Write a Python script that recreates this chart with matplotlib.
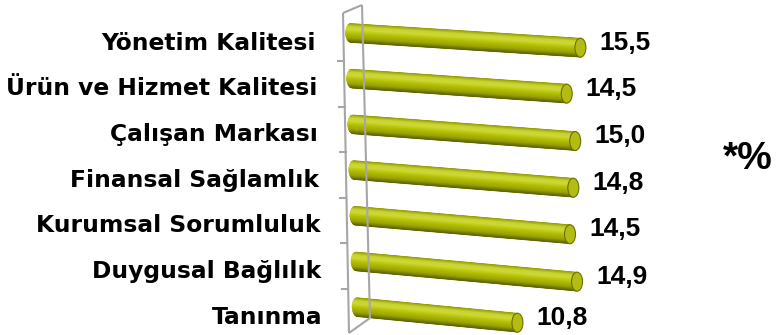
import matplotlib.pyplot as plt
import numpy as np
from matplotlib.patches import Polygon, Ellipse
from matplotlib.colors import LinearSegmentedColormap

categories = ['Yönetim Kalitesi', 'Ürün ve Hizmet Kalitesi', 'Çalışan Markası',
              'Finansal Sağlamlık', 'Kurumsal Sorumluluk', 'Duygusal Bağlılık', 'Tanınma']
values = [15.5, 14.5, 15.0, 14.8, 14.5, 14.9, 10.8]
value_labels = ['15,5', '14,5', '15,0', '14,8', '14,5', '14,9', '10,8']

# scale of the drawing: pixels per value unit / per row
PX_X = 14.8
PX_Y = 45.7
X0, Y0 = 351, 33          # pixel position of value 0, first row
drift = 1.1 / PX_X        # lower rows start a bit further right
half = 9.5 / PX_Y         # half thickness of a cylinder
cap_w = 11 / PX_X         # width of the end ellipse

def to_data(px, py):
    return ((px - X0) / PX_X, (py - Y0) / PX_Y)

def tilt(i):
    # rows per value unit; lower rows tilt a little more (perspective)
    return (0.064 + 0.0055 * i) * PX_X / PX_Y

shade = LinearSegmentedColormap.from_list('cyl', [
    (0.0, '#8e9800'), (0.18, '#c8d42e'), (0.35, '#cdd838'),
    (0.55, '#b4c000'), (0.8, '#9aa400'), (1.0, '#5e6400')])

fig = plt.figure(figsize=(7.77, 3.35), dpi=100)
ax = fig.add_axes([0, 0, 1, 1])
ax.set_xlim(-X0 / PX_X, (777 - X0) / PX_X)
ax.set_ylim((335 - Y0) / PX_Y, -Y0 / PX_Y)
ax.axis('off')

# axis wall (perspective frame)
frame_col = '#a6a6a6'
for (a, b) in [((343, 13), (349, 333)), ((362, 5), (370, 318)),
               ((343, 13), (362, 5)), ((349, 333), (370, 318))]:
    pa, pb = to_data(*a), to_data(*b)
    ax.plot([pa[0], pb[0]], [pa[1], pb[1]], color=frame_col, lw=1.5,
            solid_capstyle='butt')
for k in range(6):
    py = 61 + 45.6 * k
    px = 343 + 6 * (py - 13) / 320
    pa, pb = to_data(px - 6, py), to_data(px, py)
    ax.plot([pa[0], pb[0]], [pa[1], pb[1]], color=frame_col, lw=1.5)

# cylinders
n = 40
ts = np.linspace(-1, 1, n + 1)
for i, v in enumerate(values):
    x0 = i * drift
    x1 = x0 + v
    s = tilt(i)
    yc = lambda x: i + s * (x - x0)
    for k in range(n):
        ta, tb = ts[k], ts[k + 1]
        xa = x0 - cap_w / 2 * np.sqrt(max(0.0, 1 - ta ** 2))
        xb = x0 - cap_w / 2 * np.sqrt(max(0.0, 1 - tb ** 2))
        col = shade((k + 0.5) / n)
        poly = Polygon([(xa, yc(xa) + ta * half), (x1, yc(x1) + ta * half),
                        (x1, yc(x1) + tb * half), (xb, yc(xb) + tb * half)],
                       closed=True, facecolor=col, edgecolor=col, lw=0.4)
        ax.add_patch(poly)
    ax.add_patch(Ellipse((x1, yc(x1)), cap_w, 2 * half,
                         angle=0, facecolor='#b2bc12', edgecolor='#6a7000', lw=0.8))
    ax.text(x1 + 19 / PX_X, yc(x1) - 5 / PX_Y, value_labels[i],
            ha='left', va='center', fontsize=19, fontweight='bold',
            family='Liberation Sans')
    # category names follow the slant of the wall
    ax.text(to_data(316 + 1.1 * i, 0)[0], i + 10 / PX_Y, categories[i],
            ha='right', va='center', fontsize=16.8, fontweight='bold',
            family='DejaVu Sans')

tx, ty = to_data(748, 159)
ax.text(tx, ty, '*%', ha='center', va='center', fontsize=28, fontweight='bold',
        family='Liberation Sans')

fig.savefig('out.png', dpi=100)
